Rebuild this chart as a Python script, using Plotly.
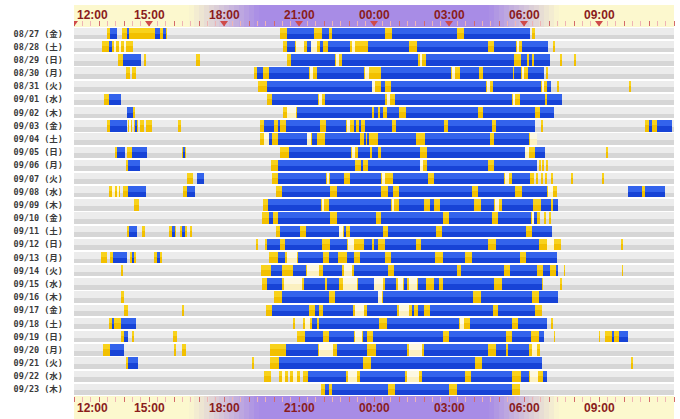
import plotly.graph_objects as go

dates = ["08/27", "08/28", "08/29", "08/30", "08/31", "09/01", "09/02", "09/03", "09/04", "09/05",
         "09/06", "09/07", "09/08", "09/09", "09/10", "09/11", "09/12", "09/13", "09/14", "09/15",
         "09/16", "09/17", "09/18", "09/19", "09/20", "09/21", "09/22", "09/23"]
weekdays = ["金", "土", "日", "月", "火", "水", "木", "金", "土", "日",
            "月", "火", "水", "木", "金", "土", "日", "月", "火", "水",
            "木", "金", "土", "日", "月", "火", "水", "木"]
tick_hours = [12, 15, 18, 21, 24, 27, 30, 33]
tick_labels = ["12:00", "15:00", "18:00", "21:00", "00:00", "03:00", "06:00", "09:00"]

# light sleep / dozing (yellow) spans, hours (24+ = next day)
yellow = [
    [(13.32, 13.72), (13.92, 15.72), (20.24, 30.25), (30.33, 30.44)],
    [(13.12, 14.35), (20.37, 30.94), (31.19, 31.25)],
    [(13.75, 13.94), (14.8, 14.87), (16.87, 17.05), (20.52, 31.02), (31.46, 31.5), (32.0, 32.07)],
    [(14.07, 14.25), (14.32, 14.49), (19.2, 30.8), (30.9, 30.95)],
    [(19.35, 31.06), (31.35, 31.39), (34.23, 34.28)],
    [(13.21, 13.4), (19.7, 31.53)],
    [(14.36, 14.45), (20.37, 31.19)],
    [(13.32, 13.43), (14.14, 14.3), (14.41, 14.56), (14.62, 14.8), (14.87, 15.1), (16.17, 16.28),
     (19.42, 30.44), (30.7, 30.74), (34.84, 35.3)],
    [(19.42, 30.52)],
    [(13.63, 13.71), (14.1, 14.3), (16.32, 16.48), (20.24, 30.83), (33.3, 33.34)],
    [(14.07, 14.17), (19.86, 30.52), (30.6, 30.65), (30.75, 30.8), (30.9, 30.95)],
    [(16.51, 16.74), (19.9, 30.4), (30.5, 30.55), (30.7, 30.75), (30.85, 30.9), (31.1, 31.14),
     (31.9, 31.94), (33.14, 33.18)],
    [(13.4, 13.83), (13.94, 14.14), (16.35, 16.51), (20.09, 31.3), (34.72, 34.84)],
    [(14.41, 14.61), (19.54, 31.34)],
    [(19.5, 30.65), (30.8, 30.85), (31.0, 31.05)],
    [(14.1, 14.2), (14.72, 14.83), (15.81, 16.07), (16.24, 16.51), (16.63, 16.71), (20.06, 31.11)],
    [(19.29, 19.33), (19.62, 31.48), (33.86, 33.97)],
    [(13.08, 13.32), (13.45, 13.55), (14.25, 14.49), (15.19, 15.5), (19.81, 31.3)],
    [(13.89, 13.97), (19.47, 31.35), (31.6, 31.64), (33.92, 33.96)],
    [(19.5, 30.75), (31.46, 31.5)],
    [(13.86, 13.99), (19.98, 31.37)],
    [(13.99, 14.14), (16.3, 16.38), (19.67, 30.7)],
    [(13.4, 13.52), (13.6, 13.86), (20.77, 20.81), (21.15, 30.9), (31.1, 31.14)],
    [(13.86, 14.17), (14.3, 14.41), (15.96, 16.12), (20.91, 30.8), (31.2, 31.24), (33.0, 33.04),
     (33.24, 33.79)],
    [(13.16, 13.99), (16.01, 16.07), (16.31, 16.46), (19.82, 30.64)],
    [(14.1, 14.17), (19.13, 19.17), (19.82, 30.7), (34.31, 34.35)],
    [(19.59, 19.86), (20.21, 20.56), (20.63, 21.02), (21.15, 30.9)],
    [(21.88, 29.82)],
]

# deep sleep (blue) spans
blue = [
    [(13.44, 13.72), (14.1, 14.18), (15.24, 15.44), (15.56, 15.68), (20.52, 21.61), (21.9, 22.2),
     (22.3, 24.42), (24.73, 27.33), (27.61, 30.25)],
    [(13.4, 13.51), (20.52, 20.84), (21.3, 21.46), (21.85, 21.95), (22.14, 23.05), (23.75, 25.38),
     (25.72, 28.54), (28.8, 29.66), (29.9, 30.94)],
    [(13.94, 14.67), (20.68, 22.42), (22.7, 25.77), (26.08, 29.58), (29.86, 30.13), (30.2, 30.3),
     (30.4, 31.02)],
    [(19.31, 19.54), (19.81, 21.41), (21.72, 23.59), (24.29, 27.09), (27.45, 28.21), (28.34, 29.55),
     (29.6, 29.86), (30.17, 30.8)],
    [(19.7, 23.9), (24.26, 24.45), (24.68, 28.49), (28.77, 30.67), (30.9, 31.06)],
    [(13.4, 13.89), (19.9, 21.74), (22.03, 24.45), (24.84, 29.51), (29.82, 30.83), (30.9, 31.53)],
    [(14.1, 14.36), (20.91, 23.9), (23.98, 24.15), (24.25, 24.35), (24.52, 25.0), (25.26, 28.15),
     (28.37, 30.44), (30.63, 31.19)],
    [(13.43, 14.1), (14.45, 14.5), (19.58, 20.01), (20.15, 20.24), (20.48, 21.83), (22.08, 22.86),
     (23.2, 23.28), (23.4, 23.48), (23.62, 24.73), (24.88, 26.78), (26.94, 28.73), (28.88, 30.44),
     (35.03, 35.1), (35.31, 35.93)],
    [(19.81, 19.93), (20.17, 21.3), (21.52, 21.72), (22.03, 23.44), (23.6, 23.65), (23.75, 23.8),
     (24.14, 25.69), (26.05, 28.62), (28.8, 30.21)],
    [(13.71, 14.02), (14.3, 14.92), (16.38, 16.44), (20.59, 23.08), (23.36, 23.82), (23.92, 24.14),
     (24.29, 25.85), (26.11, 30.02), (30.44, 30.83)],
    [(14.17, 14.64), (20.17, 23.25), (23.5, 23.55), (23.75, 25.82), (26.11, 28.57), (28.8, 30.52)],
    [(16.9, 17.21), (20.17, 22.08), (22.24, 22.81), (23.05, 24.26), (24.76, 26.16), (26.39, 29.19),
     (29.51, 30.25)],
    [(14.14, 14.87), (16.51, 16.82), (20.32, 22.24), (22.5, 24.26), (24.57, 24.76), (25.0, 27.9),
     (28.15, 29.63), (29.9, 30.9), (34.17, 34.72), (34.84, 35.62)],
    [(19.75, 21.88), (22.19, 24.68), (25.0, 26.0), (26.25, 26.4), (26.63, 28.0), (28.26, 28.8),
     (29.12, 30.36), (30.67, 31.06), (31.14, 31.34)],
    [(19.81, 19.95), (20.17, 22.24), (22.5, 24.06), (24.29, 26.75), (27.0, 28.73), (28.96, 30.28),
     (30.4, 30.5)],
    [(14.2, 14.53), (15.92, 16.04), (16.32, 16.42), (20.24, 21.02), (21.26, 22.58), (22.8, 22.85),
     (23.05, 24.37), (24.57, 26.47), (26.7, 30.08), (30.33, 31.11)],
    [(19.7, 20.24), (20.45, 21.93), (22.24, 22.92), (23.59, 23.9), (23.98, 24.14), (24.42, 25.66),
     (25.88, 28.57), (28.88, 30.6)],
    [(13.55, 14.1), (14.35, 14.4), (15.3, 15.45), (20.17, 20.45), (20.95, 21.96), (22.2, 22.55),
     (22.92, 23.2), (23.44, 24.45), (24.68, 26.44), (26.75, 27.64), (27.9, 29.82), (30.08, 31.3)],
    [(19.86, 20.32), (20.74, 21.26), (21.96, 22.73), (23.2, 24.57), (24.79, 27.33), (27.48, 29.19),
     (29.43, 30.52), (30.75, 31.02), (31.26, 31.35)],
    [(19.7, 20.32), (21.18, 22.03), (22.11, 22.58), (23.36, 23.98), (24.42, 24.88), (25.2, 25.3),
     (25.77, 26.08), (26.39, 26.6), (26.75, 28.8), (29.12, 30.7)],
    [(20.32, 22.19), (22.45, 24.14), (24.37, 27.95), (28.26, 30.33), (30.6, 31.37)],
    [(19.9, 21.41), (21.65, 21.8), (21.96, 23.17), (23.7, 24.91), (25.5, 25.6), (25.77, 26.0),
     (26.24, 28.77), (28.96, 30.44)],
    [(13.52, 13.6), (13.86, 14.49), (21.52, 21.72), (21.8, 24.21), (24.52, 27.4), (27.84, 29.51),
     (29.74, 30.9)],
    [(13.99, 14.17), (21.22, 21.96), (22.19, 23.2), (23.55, 23.7), (23.95, 26.75), (27.0, 29.27),
     (29.51, 30.28), (30.6, 30.8), (33.55, 33.6), (33.79, 34.17)],
    [(13.43, 13.99), (20.48, 21.75), (22.5, 23.7), (24.06, 25.3), (26.0, 28.57), (28.88, 29.27),
     (29.35, 30.21)],
    [(14.17, 14.56), (20.21, 23.54), (23.86, 28.03), (28.31, 30.7)],
    [(21.37, 22.89), (23.44, 25.23), (25.93, 27.64), (27.87, 29.51), (29.86, 30.21), (30.75, 30.9)],
    [(22.03, 22.2), (22.3, 24.57), (24.84, 27.0), (27.33, 29.51)],
]

# awake / restless (pale) spans
pale = [
    [],
    [(13.6, 13.68), (13.8, 13.88), (14.0, 14.06), (20.88, 21.2), (21.48, 21.72), (23.1, 23.25),
     (29.7, 29.8)],
    [(22.48, 22.58), (25.82, 25.92)],
    [(21.45, 21.55), (23.62, 23.8), (27.12, 27.25), (29.9, 30.0)],
    [(23.92, 24.05), (28.52, 28.62), (30.7, 30.8)],
    [(21.78, 21.9), (24.5, 24.62), (29.55, 29.65)],
    [(20.52, 20.88)],
    [(14.2, 14.26), (22.9, 23.05)],
    [(19.6, 19.78), (21.3, 21.48), (30.25, 30.52)],
    [(23.1, 23.25), (30.05, 30.2)],
    [(25.85, 25.95)],
    [(22.1, 22.2), (24.3, 24.45), (29.25, 29.4)],
    [(13.55, 13.62), (13.72, 13.78), (30.95, 31.15)],
    [(21.9, 22.0), (24.7, 24.8), (28.85, 29.0)],
    [(30.3, 30.38)],
    [(22.6, 22.75)],
    [(22.95, 23.2), (30.9, 31.2)],
    [(20.5, 20.92)],
    [(21.3, 21.8), (22.8, 23.1)],
    [(20.4, 21.1), (22.75, 23.3), (24.0, 24.35), (24.95, 25.15), (25.4, 25.7)],
    [(24.16, 24.32)],
    [(23.25, 23.6), (25.0, 25.4)],
    [(21.25, 21.45), (27.45, 27.6)],
    [(23.25, 23.5)],
    [(21.8, 22.35), (25.4, 25.9), (30.3, 30.5)],
    [],
    [(20.3, 20.45), (20.75, 20.9), (22.95, 23.3), (25.3, 25.8), (30.25, 30.55)],
    [],
]

row_labels = [f"{d} ({w})" for d, w in zip(dates, weekdays)]
X0, X1 = 12, 36


def seg_trace(segs_by_row, color, width, offset=None):
    ys, bases, lens = [], [], []
    for lab, segs in zip(row_labels, segs_by_row):
        for a, b in segs:
            ys.append(lab)
            bases.append(a)
            lens.append(b - a)
    kw = dict(orientation="h", y=ys, x=lens, base=bases, width=width,
              marker=dict(color=color, line=dict(width=0)),
              hoverinfo="skip", showlegend=False)
    if offset is not None:
        kw["offset"] = offset
    return go.Bar(**kw)


background = [[(X0, X1)] for _ in row_labels]

fig = go.Figure()
fig.add_trace(seg_trace(background, "#d6d6d6", 0.86))
fig.add_trace(seg_trace(background, "#ececec", 0.5, offset=-0.43))
fig.add_trace(seg_trace(yellow, "#f2c000", 0.86))
fig.add_trace(seg_trace(yellow, "#f8d21c", 0.4, offset=-0.43))
fig.add_trace(seg_trace(pale, "#fbf0c0", 0.86))
fig.add_trace(seg_trace(pale, "#fdf8e2", 0.45, offset=-0.43))
fig.add_trace(seg_trace(blue, "#1743d6", 0.86))
fig.add_trace(seg_trace(blue, "#3363ec", 0.45, offset=-0.43))
# invisible anchor trace for the top axis
fig.add_trace(go.Scatter(x=[X0], y=[row_labels[0]], xaxis="x2", mode="markers",
                         marker=dict(opacity=0), hoverinfo="skip", showlegend=False))

# header / footer band gradient
plot_h = 419 - 27 - 23
band_top = 22 / plot_h
band_bot = 23 / plot_h
pale_y = (252, 248, 206)
purple = (168, 140, 230)
stops = [(12, pale_y), (16.6, pale_y), (19.4, purple), (28.6, purple), (31.4, pale_y), (36, pale_y)]


def band_color(h):
    for (h0, c0), (h1, c1) in zip(stops[:-1], stops[1:]):
        if h0 <= h <= h1:
            t = (h - h0) / (h1 - h0) if h1 > h0 else 0
            return "rgb(%d,%d,%d)" % tuple(round(a + (b - a) * t) for a, b in zip(c0, c1))
    return "rgb(%d,%d,%d)" % pale_y


shapes = []
step = 0.2
n = int((X1 - X0) / step)
for i in range(n):
    a = X0 + i * step
    col = band_color(a + step / 2)
    for y0, y1 in [(1, 1 + band_top), (-band_bot, 0)]:
        shapes.append(dict(type="rect", xref="x", yref="paper", x0=a, x1=min(a + step + 0.01, X1),
                           y0=y0, y1=y1, fillcolor=col, line=dict(width=0), layer="below"))
for h in tick_hours:
    shapes.append(dict(type="path", xref="x", yref="paper",
                       path=f"M {max(h - 0.16, X0)},{1 + 6 / plot_h} L {h + 0.16},{1 + 6 / plot_h} L {h},{1 + 0.5 / plot_h} Z",
                       fillcolor="#cf4a4a", line=dict(width=0), layer="above"))

annotations = []
for i, (h, t) in enumerate(zip(tick_hours, tick_labels)):
    for yy in (1 + 12 / plot_h, -12 / plot_h):
        annotations.append(dict(x=h, y=yy, xref="x", yref="paper", text=t, showarrow=False,
                                xanchor="left" if i == 0 else "center", xshift=1 if i == 0 else 0,
                                yanchor="middle",
                                font=dict(family="Liberation Sans, Arial", size=12,
                                          color="#8a1c1c", weight="bold")))

axis_common = dict(range=[X0, X1], showgrid=False, zeroline=False, showline=False,
                   automargin=False,
                   tickmode="array", tickvals=list(range(X0, X1 + 1)), ticks="outside",
                   ticklen=5, tickcolor="#d46a6a", tickwidth=1, showticklabels=False,
                   minor=dict(tickmode="linear", tick0=X0, dtick=1 / 3, ticks="outside",
                              ticklen=5, tickcolor="#efb4b4", tickwidth=1, showgrid=False))

fig.update_layout(
    width=680, height=419,
    margin=dict(l=74, r=6, t=27, b=23, autoexpand=False),
    paper_bgcolor="white", plot_bgcolor="white",
    barmode="overlay", bargap=0,
    xaxis=dict(side="bottom", **axis_common),
    xaxis2=dict(side="top", overlaying="x", matches="x", anchor="y", **axis_common),
    yaxis=dict(type="category", categoryorder="array", categoryarray=row_labels,
               range=[len(row_labels) - 0.5, -0.5], autorange=False,
               showgrid=False, zeroline=False, ticks="",
               automargin=False, ticklabelstandoff=10,
               tickfont=dict(family="DejaVu Sans Mono, Noto Sans CJK JP", size=8.5,
                             color="#3a3a3a", weight="bold")),
    shapes=shapes,
    annotations=annotations,
)

fig.write_html("out.html", config={"displayModeBar": False},
               post_script="document.body.style.margin='0';document.body.style.overflow='hidden';")
